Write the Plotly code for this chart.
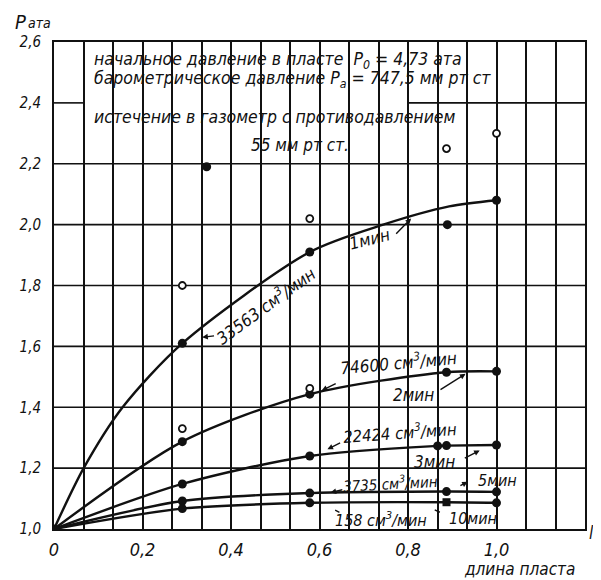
import plotly.graph_objects as go

# ---------------- data ----------------
# curves, x = длина пласта, y = P ата
c1_x = [0, 0.067, 0.155, 0.29, 0.578, 0.744, 0.893, 1.0]
c1_y = [1.0, 1.2, 1.4, 1.61, 1.91, 2.0, 2.06, 2.08]
c2_x = [0, 0.29, 0.578, 0.887, 1.0]
c2_y = [1.0, 1.287, 1.443, 1.515, 1.518]
c3_x = [0, 0.29, 0.578, 0.867, 0.887, 1.0]
c3_y = [1.0, 1.148, 1.24, 1.273, 1.274, 1.276]
c4_x = [0, 0.29, 0.578, 0.887, 1.0]
c4_y = [1.0, 1.092, 1.118, 1.123, 1.122]
c5_x = [0, 0.29, 0.578, 0.887, 1.0]
c5_y = [1.0, 1.067, 1.086, 1.088, 1.086]

# measured points lying on the curves
dots_x = [0, 0.29, 0.578, 1.0,
          0.29, 0.578, 0.887, 1.0,
          0.29, 0.578, 0.867, 0.887, 1.0,
          0.29, 0.578, 0.887, 1.0,
          0.29, 0.578, 1.0]
dots_y = [1.0, 1.61, 1.91, 2.08,
          1.287, 1.443, 1.515, 1.518,
          1.148, 1.24, 1.273, 1.274, 1.276,
          1.092, 1.118, 1.123, 1.122,
          1.067, 1.086, 1.086]
square_x = [0.887]
square_y = [1.088]

# scattered points off the curves
extra_fill_x = [0.345, 0.889]
extra_fill_y = [2.19, 2.0]
open_x = [0.29, 0.578, 0.887, 1.0, 0.29, 0.578]
open_y = [1.80, 2.02, 2.25, 2.30, 1.33, 1.462]

x_tick_vals = [0, 0.2, 0.4, 0.6, 0.8, 1.0]
x_tick_text = ["0", "0,2", "0,4", "0,6", "0,8", "1,0"]
y_tick_vals = [1.0, 1.2, 1.4, 1.6, 1.8, 2.0, 2.2, 2.4, 2.6]
y_tick_text = ["1,0", "1,2", "1,4", "1,6", "1,8", "2,0", "2,2", "2,4", "2,6"]
y_grid = [1.2, 1.4, 1.6, 1.8, 2.0, 2.2]

FONT = "DejaVu Sans Condensed, Liberation Sans Narrow, DejaVu Sans"
BLK = "#111111"

fig = go.Figure()
for cx, cy in [(c1_x, c1_y), (c2_x, c2_y), (c3_x, c3_y), (c4_x, c4_y), (c5_x, c5_y)]:
    fig.add_trace(go.Scatter(x=cx, y=cy, mode="lines",
                             line=dict(color=BLK, width=2.4, shape="spline", smoothing=0.8),
                             hoverinfo="skip", showlegend=False))
fig.add_trace(go.Scatter(x=dots_x + extra_fill_x, y=dots_y + extra_fill_y, mode="markers",
                         marker=dict(color=BLK, size=9), showlegend=False))
fig.add_trace(go.Scatter(x=square_x, y=square_y, mode="markers",
                         marker=dict(color=BLK, size=8, symbol="square"), showlegend=False))
fig.add_trace(go.Scatter(x=open_x, y=open_y, mode="markers",
                         marker=dict(color="white", size=7, line=dict(color=BLK, width=1.8)),
                         showlegend=False))

# horizontal grid lines (2.4 interrupted by the caption)
shapes = []
for gy in y_grid:
    shapes.append(dict(type="line", xref="x", yref="y", x0=0, x1=1.2, y0=gy, y1=gy,
                       line=dict(color=BLK, width=1.6), layer="below"))
shapes.append(dict(type="line", xref="x", yref="y", x0=0, x1=0.067, y0=2.4, y1=2.4,
                   line=dict(color=BLK, width=1.6), layer="below"))
shapes.append(dict(type="line", xref="x", yref="y", x0=0.8, x1=1.2, y0=2.4, y1=2.4,
                   line=dict(color=BLK, width=1.6), layer="below"))

ann = []
def txt(x, y, s, size=14, angle=0, xanchor="center", yanchor="middle", ref="x"):
    ann.append(dict(x=x, y=y, xref="x" if ref == "x" else "paper",
                    yref="y" if ref == "x" else "paper", text=s, showarrow=False,
                    textangle=angle, xanchor=xanchor, yanchor=yanchor,
                    font=dict(family=FONT, size=size, color=BLK, style="italic")))

def arrow(x0, y0, x1, y1, head=2):
    ann.append(dict(x=x1, y=y1, ax=x0, ay=y0, xref="x", yref="y", axref="x", ayref="y",
                    text="", showarrow=True, arrowhead=head, arrowsize=0.8, arrowwidth=1.4,
                    arrowcolor=BLK))

# caption
txt(0.085, 2.538, "начальное давление в пласте  P<sub>0</sub> = 4,73 ата", size=17.5, xanchor="left")
txt(0.085, 2.478, "барометрическое давление P<sub>а</sub> = 747,5 мм рт ст", size=17.5, xanchor="left")
txt(0.085, 2.355, "истечение в газометр с противодавлением", size=17.5, xanchor="left")
txt(0.556, 2.263, "55 мм рт ст.", size=17)

# curve labels
txt(0.478, 1.735, "33563 см<sup>3</sup>/мин", size=17, angle=-36)
arrow(0.365, 1.635, 0.335, 1.63)
txt(0.713, 1.952, "1мин", size=17, angle=-14)
arrow(0.77, 1.965, 0.807, 2.02)
txt(0.778, 1.55, "74600 см<sup>3</sup>/мин", size=17, angle=-5)
arrow(0.64, 1.48, 0.605, 1.455)
txt(0.813, 1.44, "2мин", size=17)
arrow(0.87, 1.455, 0.93, 1.51)
txt(0.782, 1.32, "22424 см<sup>3</sup>/мин", size=16.5, angle=-4)
arrow(0.65, 1.285, 0.618, 1.262)
txt(0.86, 1.22, "3мин", size=17)
arrow(0.925, 1.23, 0.962, 1.258)
txt(0.76, 1.15, "3735 см<sup>3</sup>/мин", size=15, angle=-3)
arrow(0.655, 1.13, 0.625, 1.12)
txt(1.002, 1.161, "5мин", size=16)
arrow(0.915, 1.14, 0.935, 1.155)
txt(0.74, 1.03, "158 см<sup>3</sup>/мин", size=16)
arrow(0.632, 1.065, 0.645, 1.055, head=0)
arrow(0.857, 1.065, 0.872, 1.055, head=0)
txt(0.948, 1.035, "10мин", size=16)

# axis titles (paper coordinates, outside the plot area)
txt(-0.064, 1.041, "P", size=20, ref="paper")
txt(-0.027, 1.038, "ата", size=14, ref="paper")
txt(0.877, -0.082, "длина пласта", size=17, ref="paper")
txt(1.013, -0.008, "l", size=17, ref="paper")

# body of the page has an 8px margin, so the figure is 8px smaller
fig.update_layout(
    width=593, height=572,
    margin=dict(l=39, r=16, t=34, b=51),
    paper_bgcolor="white", plot_bgcolor="white",
    shapes=shapes, annotations=ann, showlegend=False,
    xaxis=dict(range=[0, 1.2], tickvals=x_tick_vals, ticktext=x_tick_text,
               showgrid=True, gridcolor=BLK, gridwidth=1.6,
               minor=dict(tick0=0, dtick=1/15, showgrid=True, gridcolor=BLK, gridwidth=1.6),
               showline=True, linecolor=BLK, linewidth=2, mirror=True, zeroline=False,
               ticks="", ticklabelstandoff=3,
               tickfont=dict(family=FONT, size=18, color=BLK, style="italic")),
    yaxis=dict(range=[1.0, 2.6], tickvals=y_tick_vals, ticktext=y_tick_text,
               showgrid=False, showline=True, linecolor=BLK, linewidth=2, mirror=True,
               zeroline=False, ticks="", ticklabelstandoff=8,
               tickfont=dict(family=FONT, size=15, color=BLK, style="italic")),
)
fig.write_html("out.html")
